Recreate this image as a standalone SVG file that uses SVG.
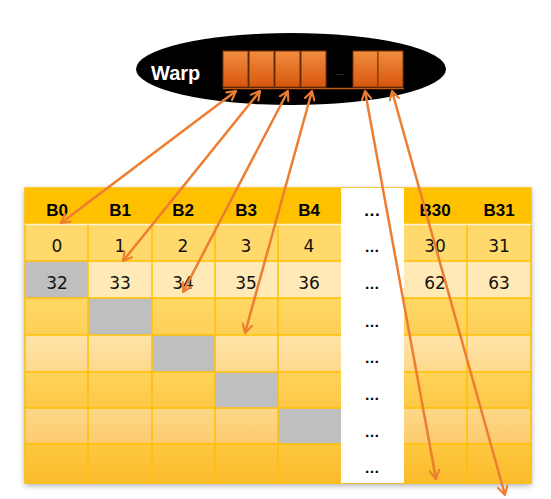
<svg xmlns="http://www.w3.org/2000/svg" width="551" height="499" viewBox="0 0 551 499">
<defs>
<filter id="sh" x="-10%" y="-10%" width="120%" height="120%">
<feDropShadow dx="0" dy="2" stdDeviation="3" flood-color="#777" flood-opacity="0.7"/>
</filter>
<linearGradient id="box" x1="0" y1="0" x2="0" y2="1">
<stop offset="0" stop-color="#F08D3E"/><stop offset="1" stop-color="#D8560E"/>
</linearGradient>
<linearGradient id="r3" x1="0" y1="0" x2="0" y2="1"><stop offset="0" stop-color="#FFD864"/><stop offset="1" stop-color="#FDD058"/></linearGradient>
<linearGradient id="r4" x1="0" y1="0" x2="0" y2="1"><stop offset="0" stop-color="#FFE4AA"/><stop offset="1" stop-color="#FDD88C"/></linearGradient>
<linearGradient id="r5" x1="0" y1="0" x2="0" y2="1"><stop offset="0" stop-color="#FED35A"/><stop offset="1" stop-color="#FDC846"/></linearGradient>
<linearGradient id="r6" x1="0" y1="0" x2="0" y2="1"><stop offset="0" stop-color="#FDD889"/><stop offset="1" stop-color="#FCCB6E"/></linearGradient>
<linearGradient id="r7" x1="0" y1="0" x2="0" y2="1"><stop offset="0" stop-color="#FDC840"/><stop offset="1" stop-color="#FCBB2C"/></linearGradient>
<marker id="ah" viewBox="0 0 12 12" refX="10" refY="6" markerWidth="4.6" markerHeight="4.6" orient="auto-start-reverse" markerUnits="strokeWidth">
<path d="M1,1 L10,6 L1,11" fill="none" stroke="#ED7D31" stroke-width="2.2" stroke-linecap="round" stroke-linejoin="round"/>
</marker>
</defs>
<style>
.hd{font-family:"Liberation Sans",Arial,sans-serif;font-weight:bold;font-size:17px;fill:#000;text-anchor:middle}
.nm{font-family:"DejaVu Sans","Liberation Sans",sans-serif;font-size:17px;fill:#111;text-anchor:middle}
.dt{font-family:"Liberation Sans",Arial,sans-serif;font-weight:bold;font-size:15px;fill:#000;text-anchor:middle}
.gl{stroke:#FFC000;stroke-width:1.5;fill:none}
.gy{fill:#BFBFBF}
.bx{fill:url(#box);stroke:#7A3508;stroke-width:1}
.ar{stroke:#ED7D31;stroke-width:2.5;fill:none;marker-start:url(#ah);marker-end:url(#ah)}
</style>
<rect width="551" height="499" fill="#fff"/>

<g id="table">
<rect x="25" y="188" width="506" height="295" fill="#FFC000" filter="url(#sh)"/>
<rect x="25" y="188" width="506" height="36" fill="#FFC000"/>
<rect x="25" y="224" width="506" height="37" fill="#FFD96C"/>
<rect x="25" y="261" width="506" height="37" fill="#FFE9B6"/>
<rect x="25" y="298" width="506" height="37" fill="url(#r3)"/>
<rect x="25" y="335" width="506" height="37" fill="url(#r4)"/>
<rect x="25" y="372" width="506" height="36" fill="url(#r5)"/>
<rect x="25" y="408" width="506" height="36" fill="url(#r6)"/>
<rect x="25" y="444" width="506" height="39" fill="url(#r7)"/>
<rect class="gy" x="25" y="261" width="63" height="37"/>
<rect class="gy" x="88" y="298" width="64" height="37"/>
<rect class="gy" x="152" y="335" width="63" height="37"/>
<rect class="gy" x="215" y="372" width="63" height="36"/>
<rect class="gy" x="278" y="408" width="63" height="36"/>
<g class="gl">
<path d="M88,224V483M152,224V483M215,224V483M278,224V483M467,224V483"/>
<path d="M25,261H531M25,298H531M25,335H531M25,372H531M25,408H531M25,444H531"/>
<rect x="25" y="188" width="506" height="295"/>
</g>
<path d="M25,224.5H531" stroke="#FFF3D0" stroke-width="1.5"/>
<rect x="341" y="188" width="63" height="295" fill="#fff"/>
<text class="hd" x="57" y="216">B0</text>
<text class="hd" x="120" y="216">B1</text>
<text class="hd" x="183" y="216">B2</text>
<text class="hd" x="246" y="216">B3</text>
<text class="hd" x="309" y="216">B4</text>
<text class="hd" x="435" y="216">B30</text>
<text class="hd" x="499" y="216">B31</text>
<text class="nm" x="57" y="252">0</text>
<text class="nm" x="120" y="252">1</text>
<text class="nm" x="183" y="252">2</text>
<text class="nm" x="246" y="252">3</text>
<text class="nm" x="309" y="252">4</text>
<text class="nm" x="435" y="252">30</text>
<text class="nm" x="499" y="252">31</text>
<text class="nm" x="57" y="289">32</text>
<text class="nm" x="120" y="289">33</text>
<text class="nm" x="183" y="289">34</text>
<text class="nm" x="246" y="289">35</text>
<text class="nm" x="309" y="289">36</text>
<text class="nm" x="435" y="289">62</text>
<text class="nm" x="499" y="289">63</text>
<text class="hd" x="372" y="216">…</text>
<text class="dt" x="372" y="252">…</text>
<text class="dt" x="372" y="289">…</text>
<text class="dt" x="372" y="327">…</text>
<text class="dt" x="372" y="363">…</text>
<text class="dt" x="372" y="400">…</text>
<text class="dt" x="372" y="437">…</text>
<text class="dt" x="372" y="473">…</text>
</g>

<g id="warp">
<ellipse cx="291" cy="69" rx="155" ry="36" fill="#000"/>
<text x="151" y="80" font-family="Liberation Sans,Arial,sans-serif" font-weight="bold" font-size="20" fill="#fff">Warp</text>
<rect class="bx" x="223" y="51" width="25" height="36"/>
<rect class="bx" x="249" y="51" width="25" height="36"/>
<rect class="bx" x="275" y="51" width="25" height="36"/>
<rect class="bx" x="301" y="51" width="25" height="36"/>
<rect class="bx" x="353" y="51" width="25" height="36"/>
<rect class="bx" x="378" y="51" width="25" height="36"/>
<text x="340" y="75" font-family="Liberation Sans,Arial,sans-serif" font-size="8" fill="#9ab" text-anchor="middle">…</text>
<path d="M223,88.5H404" stroke="#C55A11" stroke-width="1.5"/>
</g>

<g id="connectors">
<path class="ar" d="M236,91L61,223"/>
<path class="ar" d="M260,91L123,261"/>
<path class="ar" d="M288,91L183,292"/>
<path class="ar" d="M312,91L245,333"/>
<path class="ar" d="M365,91L436,479"/>
<path class="ar" d="M392,91L505,495"/>
</g>
</svg>
